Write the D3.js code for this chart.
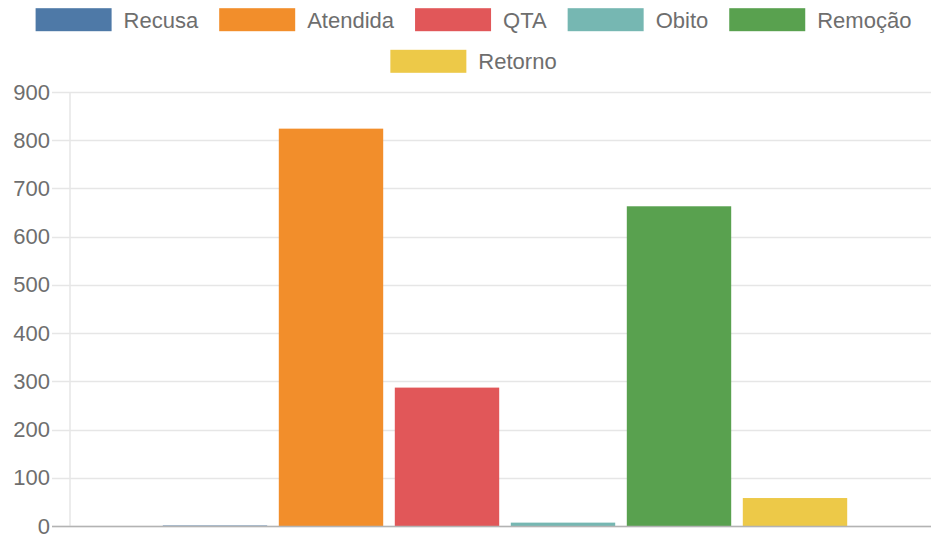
<!DOCTYPE html>
<html>
<head>
<meta charset="utf-8">
<script src="https://cdn.jsdelivr.net/npm/d3@7"></script>
<style>
  html, body { margin: 0; padding: 0; background: #fff; }
  svg { display: block; font-family: "Liberation Sans", Arial, sans-serif; }
</style>
</head>
<body>
<svg id="chart" width="931" height="537"></svg>
<script>
const seriesNames = ["Recusa", "Atendida", "QTA", "Obito", "Remoção", "Retorno"];
const seriesValues = [1, 824, 287, 7, 663, 58];
const seriesColors = ["#4e79a7", "#f28e2b", "#e15759", "#76b7b2", "#59a14f", "#edc948"];
const yTicks = [0, 100, 200, 300, 400, 500, 600, 700, 800, 900];

const W = 931, H = 537;
const svg = d3.select("#chart");

const plot = { left: 70, right: 940, top: 92, bottom: 526 };

const y = d3.scaleLinear().domain([0, 900]).range([plot.bottom, plot.top]);

// category band (single category, 80% of width) then dataset bands within it
const cat = d3.scaleBand().domain(["c"]).range([plot.left, plot.right]).paddingInner(0).paddingOuter(0.125);
const x = d3.scaleBand().domain(seriesNames)
  .range([cat("c"), cat("c") + cat.bandwidth()])
  .paddingInner(0.1).paddingOuter(0.05);

// gridlines
svg.append("g")
  .selectAll("line").data(yTicks).join("line")
  .attr("x1", plot.left - 18).attr("x2", W)
  .attr("y1", d => Math.round(y(d)) + 0.5).attr("y2", d => Math.round(y(d)) + 0.5)
  .attr("stroke", "#e6e6e6").attr("stroke-width", 1.5);

// left axis line
svg.append("line")
  .attr("x1", plot.left).attr("x2", plot.left)
  .attr("y1", plot.top).attr("y2", plot.bottom)
  .attr("stroke", "#e6e6e6").attr("stroke-width", 1.5);

// y axis labels via d3 axis
const yAxis = d3.axisLeft(y).tickValues(yTicks).tickSize(0).tickPadding(0);
const ya = svg.append("g").attr("transform", `translate(${plot.left - 20},0)`).call(yAxis);
ya.select(".domain").remove();
ya.selectAll("text").attr("fill", "#6e6e6e").attr("font-size", 22)
  .attr("font-family", "Liberation Sans, Arial, sans-serif");

// bars
svg.append("g")
  .selectAll("rect").data(seriesNames.map((n, i) => ({ n, v: seriesValues[i], c: seriesColors[i] })))
  .join("rect")
  .attr("x", d => x(d.n))
  .attr("width", x.bandwidth())
  .attr("y", d => y(d.v))
  .attr("height", d => Math.max(0, y(0) - y(d.v)))
  .attr("fill", d => d.c);

// zero line
svg.append("line")
  .attr("x1", plot.left - 18).attr("x2", W)
  .attr("y1", y(0) + 0.5).attr("y2", y(0) + 0.5)
  .attr("stroke", "#b3b3b3").attr("stroke-width", 1.5);

// legend
const boxW = 76, boxH = 23, textGap = 12, itemGap = 21, maxRowW = 900;
const legend = svg.append("g");
const measure = legend.append("text").attr("font-size", 22);
const items = seriesNames.map((n, i) => {
  measure.text(n);
  const tw = measure.node().getComputedTextLength();
  return { n, c: seriesColors[i], w: boxW + textGap + tw };
});
measure.remove();

const rows = [];
let cur = [], curW = 0;
items.forEach(it => {
  const add = (cur.length ? itemGap : 0) + it.w;
  if (cur.length && curW + add > maxRowW) { rows.push({ items: cur, w: curW }); cur = []; curW = 0; }
  curW += (cur.length ? itemGap : 0) + it.w;
  cur.push(it);
});
if (cur.length) rows.push({ items: cur, w: curW });

const centerX = 473.5;
const rowCY = [19.7, 61.3];
rows.forEach((row, ri) => {
  let xx = centerX - row.w / 2;
  const cy = rowCY[ri] !== undefined ? rowCY[ri] : rowCY[0] + ri * 41.6;
  row.items.forEach(it => {
    const g = legend.append("g");
    g.append("rect").attr("x", xx).attr("y", cy - boxH / 2)
      .attr("width", boxW).attr("height", boxH).attr("fill", it.c);
    g.append("text").attr("x", xx + boxW + textGap).attr("y", cy)
      .attr("dy", "0.36em").attr("font-size", 22).attr("fill", "#6e6e6e").text(it.n);
    xx += it.w + itemGap;
  });
});
</script>
</body>
</html>
